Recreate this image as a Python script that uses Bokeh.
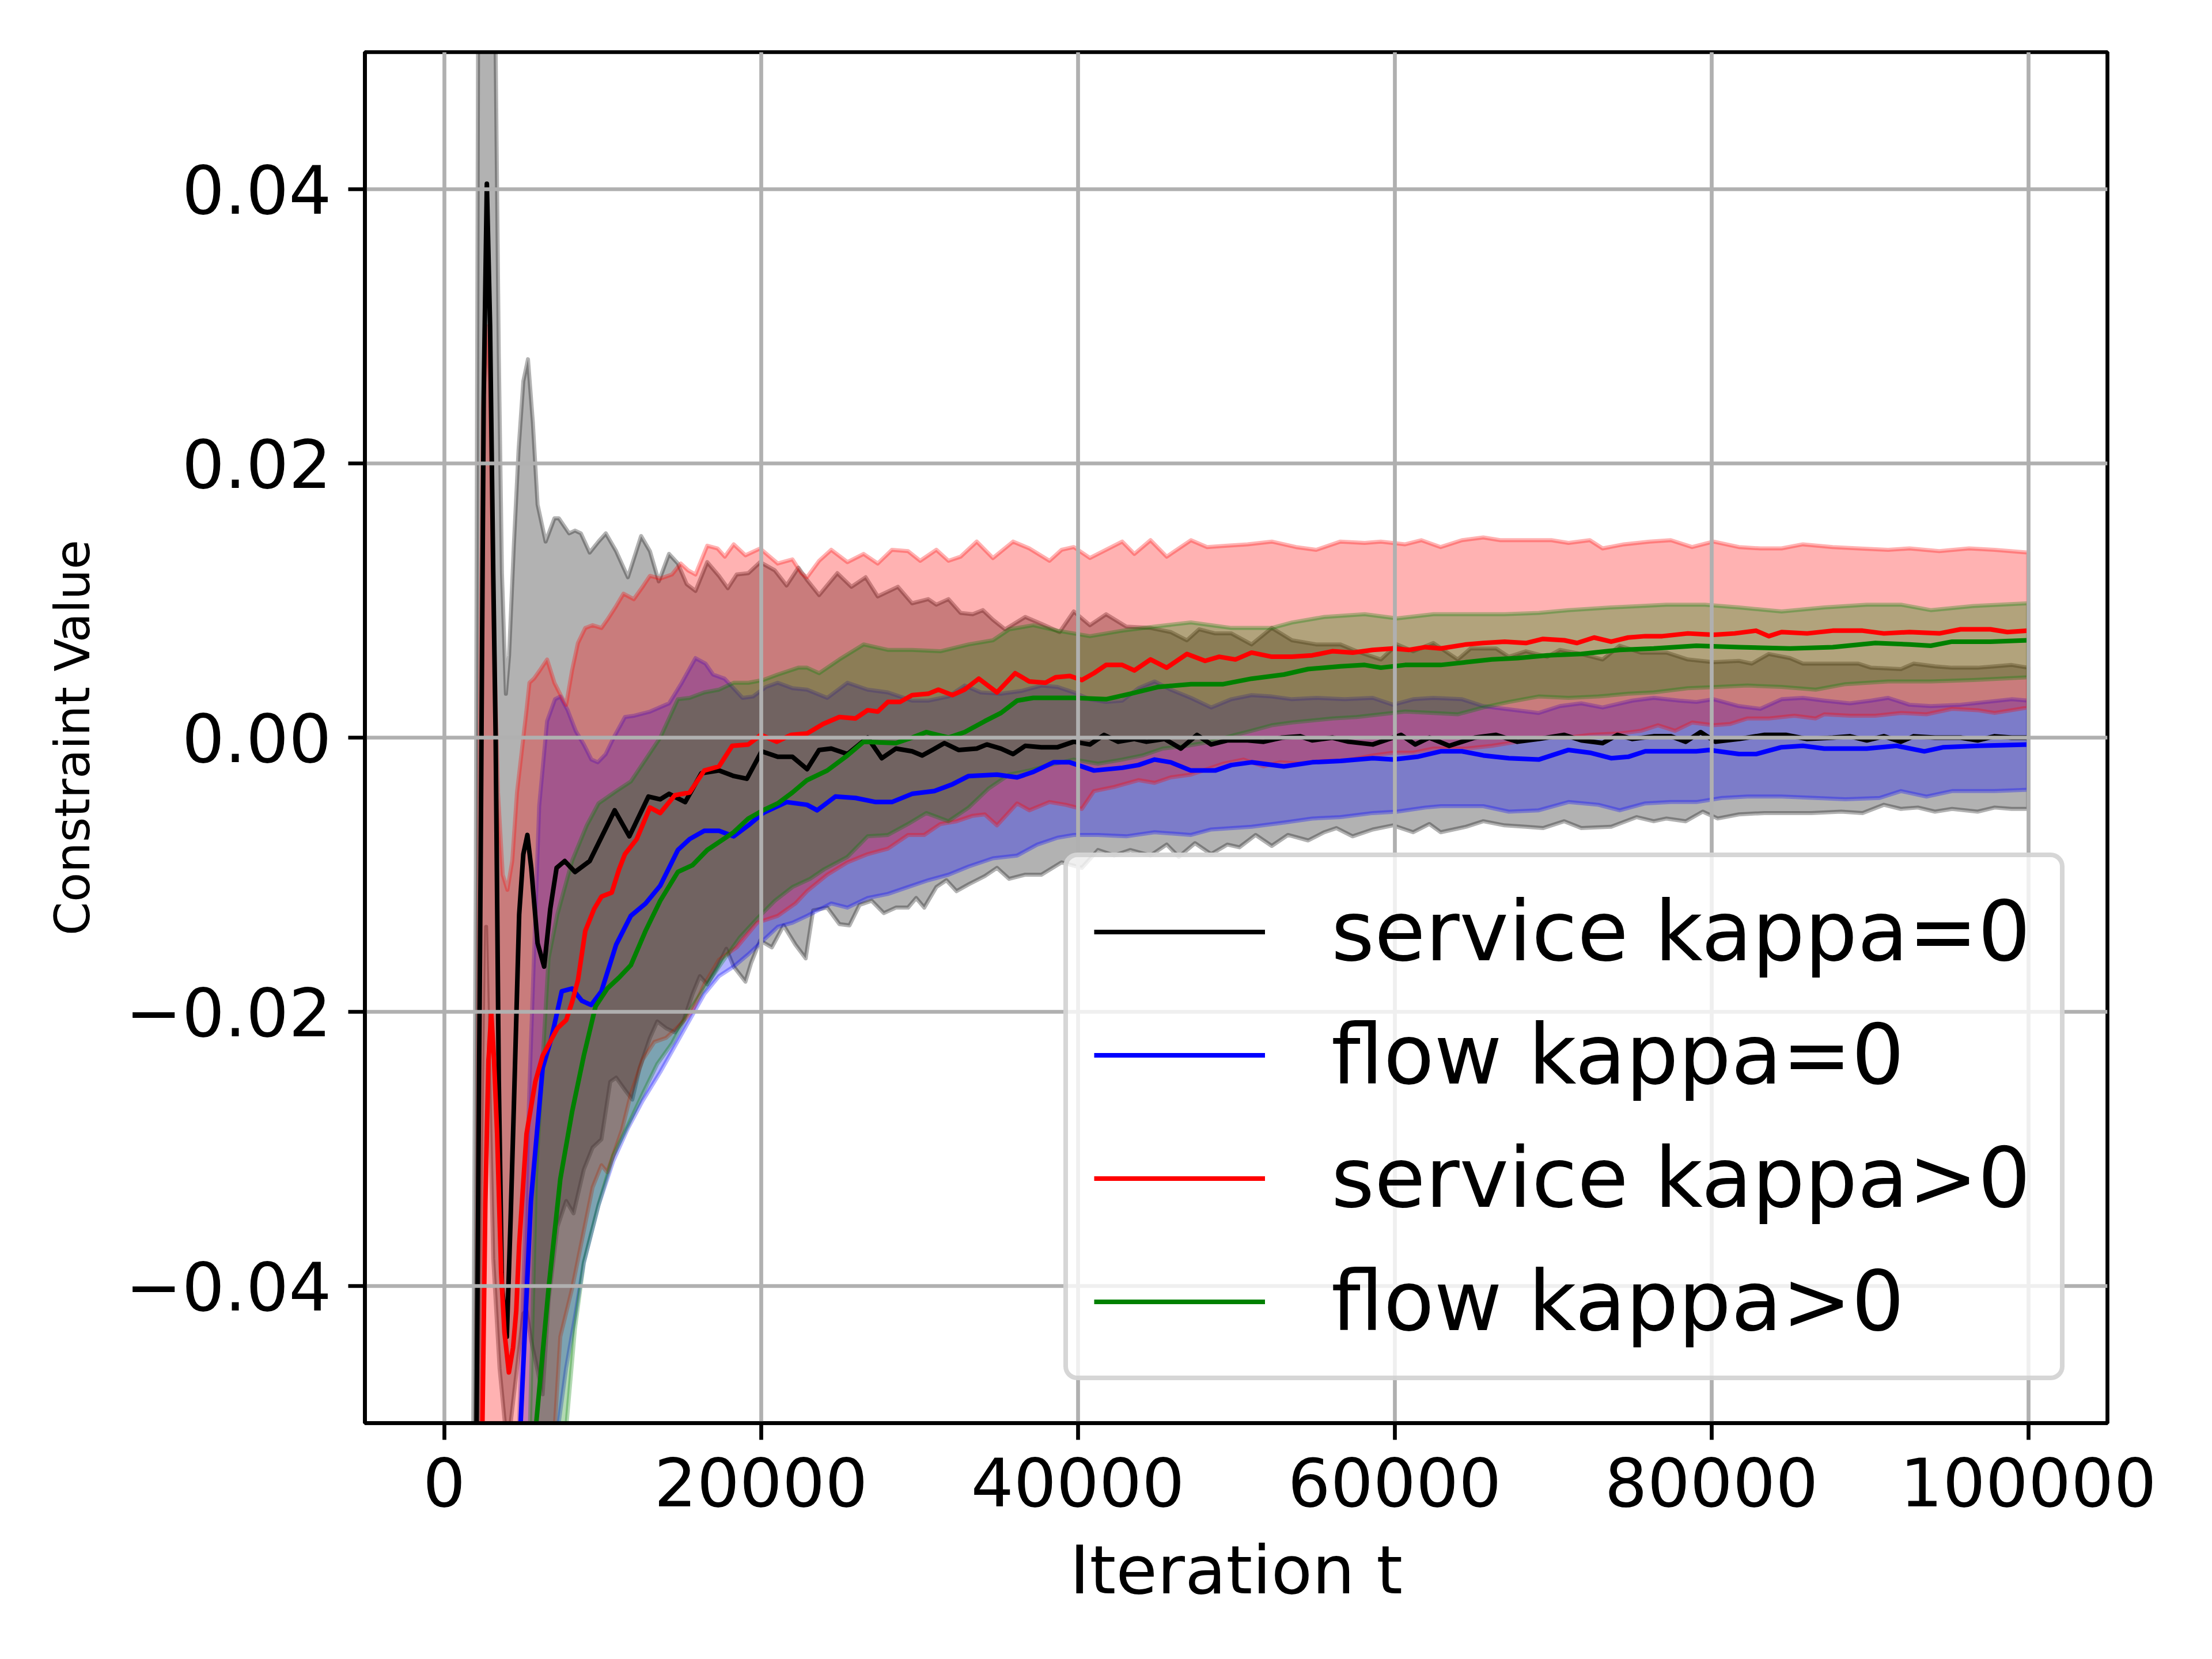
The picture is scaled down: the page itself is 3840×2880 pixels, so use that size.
from bokeh.plotting import figure
from bokeh.models import Range1d, FixedTicker
from bokeh.embed import file_html
from bokeh.resources import INLINE

# ---------------- data ----------------
X_TICKS = [0, 20000, 40000, 60000, 80000, 100000]
X_LABELS = ["0", "20000", "40000", "60000", "80000", "100000"]
Y_TICKS = [-0.04, -0.02, 0.0, 0.02, 0.04]
Y_LABELS = ["\u22120.04", "\u22120.02", "0.00", "0.02", "0.04"]

LABELS = ["service kappa=0", "flow kappa=0", "service kappa>0", "flow kappa>0"]

# service kappa=0 (black) mean
BK_X = [1500, 2047, 2300, 2500, 2697, 2900, 3100, 3253, 3450, 3650, 3958, 4200, 4400, 4737, 5000, 5256, 5500, 5900, 6314, 6700,
        7100, 7612, 8262, 9189, 9746, 10766, 11693, 12899, 13641, 14198, 15219, 16238, 17351, 18278, 19113, 20041, 21061, 21989, 22916, 23674,
        24440, 25460, 26735, 27628, 28521, 29541, 30179, 30817, 31582, 32475, 33623, 34261, 35154, 35919, 36684, 37705, 38725, 39746, 40766, 41659,
        42552, 43572, 44337, 45485, 46506, 47526, 48419, 49439, 50715, 51735, 52883, 54031, 54796, 56072, 57092, 58623, 60409, 61302, 62195, 63447,
        64254, 65061, 66406, 67751, 69096, 70710, 71786, 73131, 74073, 75014, 76359, 77435, 78377, 79318, 80260, 81739, 83353, 84698, 86043, 87657,
        88733, 89809, 90885, 91961, 92768, 94113, 95727, 96803, 97879, 98955, 100000]
BK_Y = [-0.09, -0.05, -0.01, 0.025, 0.0404, 0.030, 0.012, 0.0, -0.025, -0.040, -0.0437, -0.035, -0.027, -0.0129, -0.0085, -0.0071, -0.0095, -0.015, -0.0167, -0.0125,
        -0.0095, -0.0090, -0.0098, -0.0090, -0.0077, -0.0053, -0.0072, -0.0043, -0.0045, -0.0041, -0.0047, -0.0026, -0.0024, -0.0028, -0.0030, -0.0010, -0.0014, -0.0014, -0.0023, -0.0009,
        -0.0008, -0.0012, 0.0000, -0.0015, -0.0008, -0.0010, -0.0013, -0.0009, -0.0004, -0.0009, -0.0008, -0.0005, -0.0008, -0.0012, -0.0006, -0.0007, -0.0007, -0.0003, -0.0005, 0.0002,
        -0.0003, -0.0001, -0.0003, -0.0001, -0.0008, 0.0002, -0.0005, -0.0002, -0.0002, -0.0003, 0.0000, 0.0001, -0.0002, 0.0000, -0.0003, -0.0005, 0.0002, -0.0005, 0.0000, -0.0006,
        -0.0003, 0.0000, 0.0002, -0.0003, -0.0001, 0.0002, -0.0002, -0.0004, 0.0002, -0.0001, 0.0001, 0.0001, -0.0003, 0.0004, -0.0003, -0.0001, 0.0002, 0.0002, -0.0001, 0.0000,
        0.0001, -0.0002, 0.0001, -0.0003, 0.0001, 0.0000, 0.0000, -0.0002, 0.0001, 0.0000, 0.0000]

# flow kappa=0 (blue) mean
BL_X = [4500, 4830, 5479, 6221, 6778, 7427, 8076, 8700, 9282, 9931, 10859, 11786, 12714, 13641, 14754, 15497, 16424, 17351, 18278, 19206,
        20134, 21617, 22909, 23547, 24695, 25970, 27246, 28266, 29541, 30944, 32093, 33113, 34899, 36174, 37194, 38470, 39491, 41021, 42807, 43827,
        44848, 45868, 47143, 48674, 49694, 50971, 53011, 54797, 56582, 58623, 59899, 61430, 62909, 64254, 65599, 67213, 69096, 70979, 72324, 73669,
        74745, 75821, 77166, 79049, 79856, 81739, 82815, 84429, 85774, 87119, 89809, 91692, 93440, 94651, 96803, 100000]
BL_Y = [-0.065, -0.05, -0.0338, -0.0241, -0.0219, -0.0185, -0.0183, -0.0192, -0.0195, -0.0185, -0.0151, -0.0130, -0.0121, -0.0108, -0.0082, -0.0074, -0.0068, -0.0068, -0.0072, -0.0064,
        -0.0055, -0.0047, -0.0049, -0.0053, -0.0043, -0.0044, -0.0047, -0.0047, -0.0041, -0.0039, -0.0034, -0.0028, -0.0027, -0.0029, -0.0025, -0.0018, -0.0018, -0.0024, -0.0022, -0.0020,
        -0.0016, -0.0018, -0.0024, -0.0024, -0.0020, -0.0018, -0.0021, -0.0018, -0.0017, -0.0015, -0.0016, -0.0014, -0.0010, -0.0010, -0.0013, -0.0015, -0.0016, -0.0009, -0.0011, -0.0015,
        -0.0014, -0.0010, -0.0010, -0.0010, -0.0009, -0.0012, -0.0012, -0.0007, -0.0006, -0.0008, -0.0008, -0.0006, -0.0010, -0.0007, -0.0006, -0.0005]

# service kappa>0 (red) mean
RD_X = [2200, 2418, 2600, 2800, 2975, 3150, 3346, 3600, 3810, 4088, 4350, 4552, 4737, 5201, 5757, 6221, 6685, 7149, 7705, 8076,
        8447, 8911, 9467, 9931, 10580, 11044, 11415, 12157, 12992, 13641, 14569, 15497, 16424, 17351, 18186, 19206, 20000, 21000, 21900, 22909,
        23929, 24950, 25970, 26735, 27373, 28011, 28776, 29541, 30562, 31200, 32093, 32858, 33751, 34899, 36046, 36939, 37960, 38598, 39491, 40256,
        41021, 41786, 42807, 43572, 44592, 45613, 46889, 48037, 48930, 49950, 50971, 52246, 53522, 54797, 56072, 57348, 58623, 59899, 60919, 61940,
        62909, 64523, 65599, 66944, 68289, 69365, 70710, 71517, 72593, 73669, 74745, 75821, 76897, 78511, 80125, 81470, 82815, 83622, 84429, 86043,
        87657, 89540, 90885, 92499, 94382, 95727, 97610, 98686, 100000]
RD_Y = [-0.065, -0.05, -0.034, -0.0235, -0.0201, -0.0235, -0.0289, -0.039, -0.0434, -0.0463, -0.0445, -0.0418, -0.037, -0.0289, -0.0251, -0.0232, -0.0222, -0.0212, -0.0206, -0.0193,
        -0.0177, -0.0141, -0.0125, -0.0116, -0.0113, -0.0096, -0.0085, -0.0074, -0.0051, -0.0055, -0.0042, -0.0040, -0.0024, -0.0021, -0.0006, -0.0005, 0.0002, -0.0003, 0.0002, 0.0003,
        0.0010, 0.0015, 0.0014, 0.0020, 0.0019, 0.0026, 0.0026, 0.0031, 0.0032, 0.0035, 0.0031, 0.0035, 0.0043, 0.0033, 0.0047, 0.0041, 0.0040, 0.0044, 0.0045, 0.0042,
        0.0047, 0.0053, 0.0053, 0.0049, 0.0057, 0.0051, 0.0061, 0.0056, 0.0059, 0.0057, 0.0062, 0.0059, 0.0059, 0.0060, 0.0063, 0.0062, 0.0064, 0.0065, 0.0064, 0.0066,
        0.0065, 0.0068, 0.0069, 0.0070, 0.0069, 0.0072, 0.0071, 0.0069, 0.0073, 0.0070, 0.0073, 0.0074, 0.0074, 0.0076, 0.0075, 0.0076, 0.0078, 0.0074, 0.0077, 0.0076,
        0.0078, 0.0078, 0.0076, 0.0077, 0.0076, 0.0079, 0.0079, 0.0077, 0.0078]

# flow kappa>0 (green) mean
GR_X = [5500, 5813, 6592, 7334, 8076, 8818, 9560, 10302, 11044, 11786, 12714, 13641, 14754, 15682, 16609, 18278, 19206, 20134, 21061, 21989,
        22909, 24184, 25460, 26480, 28521, 29541, 30434, 31838, 32858, 34133, 35154, 36174, 37194, 38725, 39746, 41786, 43317, 45102, 47143, 49184,
        50971, 53011, 54542, 56582, 58113, 59133, 60664, 62909, 64523, 66137, 67751, 69634, 71786, 74207, 76359, 79049, 81739, 84967, 87657, 90347,
        92499, 93844, 95189, 97610, 100000]
GR_Y = [-0.065, -0.05, -0.0402, -0.0322, -0.0273, -0.0232, -0.0196, -0.0183, -0.0175, -0.0166, -0.0141, -0.0119, -0.0098, -0.0093, -0.0082, -0.0069, -0.0059, -0.0053, -0.0048, -0.0040,
        -0.0031, -0.0024, -0.0013, -0.0003, -0.0004, 0.0000, 0.0004, 0.0000, 0.0004, 0.0012, 0.0018, 0.0027, 0.0029, 0.0029, 0.0029, 0.0028, 0.0032, 0.0037, 0.0039, 0.0039,
        0.0043, 0.0046, 0.0050, 0.0052, 0.0053, 0.0051, 0.0053, 0.0053, 0.0055, 0.0057, 0.0058, 0.0060, 0.0061, 0.0064, 0.0065, 0.0067, 0.0066, 0.0065, 0.0066, 0.0069,
        0.0068, 0.0067, 0.0070, 0.0070, 0.0071]

# ---- bands (upper / lower edges) ----
BK_HI_X = [1800, 2000, 2140, 2400, 2700, 3000, 3253, 3450, 3650, 3900, 4100, 4400, 4700, 5000, 5293, 5600, 5900, 6407, 6963, 7241,
           7891, 8262, 8633, 9189, 9746, 10209, 10858, 11601, 12435, 12992, 13548, 14198, 14754, 15311, 15867, 16609, 17351, 17907, 18464, 19206,
           19948, 20876, 21618, 22360, 22909, 23674, 24822, 25715, 26608, 27373, 28649, 29541, 30562, 31072, 31837, 32603, 33368, 34006, 34644, 35409,
           36684, 37705, 38853, 39746, 40766, 41786, 43062, 44592, 45868, 46889, 47654, 48675, 49695, 50971, 52246, 53522, 55052, 56582, 57603, 59133,
           60153, 61174, 62449, 63985, 64792, 66406, 67213, 68289, 69634, 70441, 71786, 73131, 74207, 75552, 77166, 78511, 80125, 81739, 82546, 83622,
           84967, 85774, 87657, 89271, 90078, 91961, 92768, 94113, 95189, 96803, 97879, 98955, 100000]
BK_HI_Y = [-0.06, -0.01, 0.05, 0.08, 0.095, 0.075, 0.05, 0.028, 0.012, 0.0032, 0.006, 0.014, 0.021, 0.026, 0.0276, 0.023, 0.017, 0.0143, 0.0160, 0.0160,
           0.0149, 0.0151, 0.0149, 0.0135, 0.0143, 0.0149, 0.0136, 0.0117, 0.0147, 0.0136, 0.0114, 0.0134, 0.0127, 0.0112, 0.0107, 0.0128, 0.0118, 0.0109, 0.0119, 0.0120,
           0.0128, 0.0122, 0.0111, 0.0124, 0.0115, 0.0104, 0.0120, 0.0110, 0.0117, 0.0103, 0.0110, 0.0098, 0.0101, 0.0097, 0.0101, 0.0091, 0.0090, 0.0093, 0.0086, 0.0079,
           0.0088, 0.0083, 0.0077, 0.0092, 0.0082, 0.0090, 0.0081, 0.0080, 0.0077, 0.0071, 0.0079, 0.0076, 0.0076, 0.0068, 0.0080, 0.0071, 0.0068, 0.0068, 0.0063, 0.0057,
           0.0068, 0.0063, 0.0069, 0.0057, 0.0065, 0.0065, 0.0059, 0.0063, 0.0059, 0.0064, 0.0061, 0.0057, 0.0067, 0.0062, 0.0062, 0.0057, 0.0055, 0.0056, 0.0054, 0.0061,
           0.0058, 0.0054, 0.0054, 0.0054, 0.0051, 0.0050, 0.0054, 0.0052, 0.0051, 0.0051, 0.0052, 0.0053, 0.0051]
BK_LO_X = [1800, 2140, 2400, 2650, 2850, 3100, 3500, 4000, 4600, 5000, 5201, 5500, 6221, 6600, 7149, 7705, 8169, 8818, 9375, 9931,
           10488, 10858, 11415, 11879, 12342, 12992, 13456, 14012, 14569, 15125, 15681, 16145, 16609, 17258, 17815, 18278, 19020, 19391, 19948, 20690,
           21432, 22174, 22823, 23292, 24184, 24950, 25588, 26225, 26991, 27756, 28521, 29286, 29797, 30307, 31072, 31710, 32348, 33113, 34133, 34899,
           35664, 36684, 37705, 38980, 40256, 41276, 42297, 43317, 44592, 45613, 46378, 47399, 48419, 49440, 50205, 51226, 52246, 53267, 54543, 55563,
           56328, 57349, 58624, 59899, 61175, 62195, 62909, 64523, 65599, 66944, 68289, 69365, 70710, 71786, 73669, 75283, 76359, 77166, 78376, 79452,
           80394, 81739, 83353, 84967, 86312, 88195, 89540, 90885, 91961, 93037, 94113, 95189, 96803, 97879, 98955, 100000]
BK_LO_Y = [-0.10, -0.06, -0.035, -0.0138, -0.025, -0.038, -0.046, -0.052, -0.046, -0.042, -0.0418, -0.044, -0.0479, -0.041, -0.0357, -0.0338, -0.0347, -0.0315, -0.0299, -0.0293,
           -0.0251, -0.0248, -0.0257, -0.0264, -0.0241, -0.0219, -0.0207, -0.0212, -0.0215, -0.0206, -0.0187, -0.0174, -0.0180, -0.0167, -0.0154, -0.0167, -0.0178, -0.0164, -0.0148, -0.0153,
           -0.0137, -0.0151, -0.0161, -0.0126, -0.0124, -0.0136, -0.0137, -0.0122, -0.0119, -0.0128, -0.0124, -0.0124, -0.0117, -0.0124, -0.0109, -0.0104, -0.0112, -0.0107, -0.0101, -0.0095,
           -0.0103, -0.0100, -0.0100, -0.0091, -0.0095, -0.0082, -0.0086, -0.0082, -0.0086, -0.0078, -0.0087, -0.0077, -0.0085, -0.0078, -0.0080, -0.0071, -0.0079, -0.0071, -0.0075, -0.0069,
           -0.0066, -0.0072, -0.0067, -0.0064, -0.0069, -0.0063, -0.0069, -0.0065, -0.0061, -0.0064, -0.0065, -0.0066, -0.0061, -0.0066, -0.0065, -0.0058, -0.0061, -0.0059, -0.0061, -0.0054,
           -0.0059, -0.0056, -0.0055, -0.0055, -0.0055, -0.0054, -0.0055, -0.0049, -0.0052, -0.0051, -0.0054, -0.0052, -0.0054, -0.0051, -0.0052, -0.0052]

BL_HI_X = [4000, 4737, 5400, 6000, 6500, 7000, 7334, 7800, 8300, 8818, 9300, 9700, 10200, 10700, 11415, 12000, 13000, 14200, 15000, 15867,
           16500, 16980, 17700, 18278, 18835, 19500, 20319, 21061, 22000, 22909, 24184, 25460, 26735, 28011, 29541, 30562, 31838, 32858, 33878, 35154,
           36430, 37705, 38725, 39746, 40766, 41786, 42807, 43827, 44848, 45868, 47143, 48419, 49695, 50971, 52246, 53522, 55052, 56838, 58624, 59899,
           61175, 62450, 64254, 65599, 66944, 69096, 70441, 71786, 73131, 75014, 76359, 77973, 79049, 80125, 81739, 83084, 84429, 85774, 87119, 88733,
           90078, 91154, 92499, 93844, 95727, 97341, 98955, 100000]
BL_HI_Y = [-0.08, -0.05, -0.025, -0.005, 0.0012, 0.0028, 0.0030, 0.0020, 0.0005, -0.0005, -0.0016, -0.0018, -0.0012, 0.0000, 0.0015, 0.0016, 0.0019, 0.0025, 0.0040, 0.0058,
           0.0054, 0.0046, 0.0043, 0.0036, 0.0029, 0.0030, 0.0037, 0.0040, 0.0036, 0.0035, 0.0029, 0.0040, 0.0035, 0.0033, 0.0027, 0.0027, 0.0030, 0.0038, 0.0033, 0.0032,
           0.0034, 0.0038, 0.0037, 0.0033, 0.0028, 0.0026, 0.0027, 0.0036, 0.0041, 0.0035, 0.0029, 0.0022, 0.0028, 0.0031, 0.0030, 0.0028, 0.0029, 0.0028, 0.0029, 0.0024,
           0.0028, 0.0029, 0.0028, 0.0023, 0.0021, 0.0018, 0.0023, 0.0025, 0.0022, 0.0027, 0.0029, 0.0027, 0.0026, 0.0028, 0.0023, 0.0021, 0.0028, 0.0029, 0.0027, 0.0025,
           0.0027, 0.0029, 0.0024, 0.0023, 0.0024, 0.0026, 0.0028, 0.0027]
BL_LO_X = [6000, 7000, 7700, 8300, 8818, 9746, 10673, 11601, 12528, 13641, 14569, 15496, 16424, 17351, 18278, 19206, 20134, 21061, 21989, 22916,
           24440, 25460, 26735, 28011, 29286, 30562, 31838, 33113, 34644, 36174, 37449, 38725, 39746, 41276, 43062, 44848, 47143, 48419, 50971, 53011,
           54797, 56583, 58624, 60153, 61940, 62909, 65599, 67213, 69096, 70979, 72862, 74207, 75821, 77435, 79049, 80663, 82277, 84429, 86581, 88464,
           90616, 91961, 93575, 95189, 97879, 100000]
BL_LO_Y = [-0.07, -0.052, -0.046, -0.042, -0.0383, -0.0341, -0.0309, -0.0285, -0.0265, -0.0244, -0.0225, -0.0206, -0.0187, -0.0174, -0.0167, -0.0158, -0.0148, -0.0138, -0.0135, -0.0130,
           -0.0121, -0.0124, -0.0117, -0.0114, -0.0109, -0.0104, -0.0100, -0.0094, -0.0088, -0.0086, -0.0078, -0.0073, -0.0071, -0.0071, -0.0072, -0.0069, -0.0071, -0.0067, -0.0065, -0.0062,
           -0.0059, -0.0058, -0.0055, -0.0054, -0.0051, -0.0050, -0.0050, -0.0054, -0.0053, -0.0047, -0.0049, -0.0053, -0.0048, -0.0047, -0.0047, -0.0044, -0.0043, -0.0043, -0.0044, -0.0045,
           -0.0044, -0.0039, -0.0043, -0.0039, -0.0039, -0.0038]

RD_HI_X = [2000, 2250, 2450, 2700, 2900, 3100, 3400, 3700, 3995, 4300, 4600, 4900, 5200, 5386, 5665, 6036, 6500, 6963, 7400, 7705,
           8076, 8447, 8911, 9375, 9931, 10302, 10858, 11323, 11972, 12528, 12992, 13641, 14383, 14939, 15403, 15867, 16609, 17258, 17722, 18278,
           19021, 19948, 21061, 21989, 22545, 22909, 23674, 24440, 25460, 26480, 27373, 28266, 29286, 30052, 31072, 31838, 32603, 33623, 34644, 35919,
           36940, 38215, 38980, 39746, 40766, 41786, 42807, 43572, 44593, 45613, 47143, 48164, 49440, 50715, 52246, 53777, 55052, 56583, 58113, 59133,
           60664, 61685, 62909, 64254, 65599, 66675, 68289, 69903, 70979, 72324, 73131, 74476, 76090, 77435, 78780, 80125, 81739, 83084, 84429, 85774,
           87657, 89271, 91154, 92499, 94382, 96265, 97879, 100000]
RD_HI_Y = [-0.06, 0.0, 0.024, 0.030, 0.026, 0.010, -0.004, -0.010, -0.0111, -0.009, -0.004, -0.001, 0.002, 0.0040, 0.0043, 0.0049, 0.0057, 0.0040, 0.0030, 0.0024,
           0.0049, 0.0069, 0.0080, 0.0082, 0.0080, 0.0086, 0.0096, 0.0105, 0.0101, 0.0110, 0.0118, 0.0116, 0.0119, 0.0127, 0.0122, 0.0119, 0.0140, 0.0138, 0.0132, 0.0141,
           0.0133, 0.0138, 0.0127, 0.0130, 0.0120, 0.0117, 0.0129, 0.0137, 0.0128, 0.0134, 0.0127, 0.0137, 0.0136, 0.0129, 0.0137, 0.0129, 0.0132, 0.0143, 0.0131, 0.0143,
           0.0138, 0.0129, 0.0137, 0.0139, 0.0131, 0.0137, 0.0143, 0.0134, 0.0144, 0.0132, 0.0144, 0.0139, 0.0140, 0.0141, 0.0143, 0.0139, 0.0137, 0.0143, 0.0142, 0.0143,
           0.0141, 0.0144, 0.0139, 0.0144, 0.0146, 0.0144, 0.0144, 0.0144, 0.0142, 0.0144, 0.0138, 0.0141, 0.0143, 0.0144, 0.0139, 0.0143, 0.0139, 0.0138, 0.0138, 0.0141,
           0.0139, 0.0138, 0.0137, 0.0138, 0.0136, 0.0138, 0.0137, 0.0135]
RD_LO_X = [2000, 2700, 3500, 5000, 6500, 7000, 7334, 8076, 9375, 9931, 10302, 11230, 11786, 12528, 13271, 14012, 14939, 15681, 16424, 17351,
           18464, 19763, 21061, 22174, 22909, 24184, 25460, 26735, 28011, 29286, 30307, 31328, 32348, 33369, 34133, 34899, 36174, 36940, 38215, 39235,
           40256, 41021, 42297, 43827, 44848, 45868, 47143, 47909, 49184, 50460, 51735, 52756, 54031, 55563, 56838, 58624, 59899, 61175, 62450, 64523,
           66137, 67751, 69096, 70979, 72324, 74207, 75552, 76628, 77704, 78780, 80125, 81201, 82277, 83622, 85236, 86581, 87119, 88733, 90347, 91961,
           93575, 95189, 96803, 97879, 98955, 100000]
RD_LO_Y = [-0.10, -0.07, -0.09, -0.08, -0.058, -0.05, -0.0437, -0.0402, -0.0328, -0.0312, -0.0317, -0.0286, -0.0260, -0.0235, -0.0222, -0.0219, -0.0209, -0.0199, -0.0180, -0.0162,
           -0.0153, -0.0135, -0.0130, -0.0121, -0.0112, -0.0100, -0.0091, -0.0085, -0.0081, -0.0071, -0.0071, -0.0063, -0.0061, -0.0057, -0.0056, -0.0064, -0.0048, -0.0053, -0.0047, -0.0049,
           -0.0052, -0.0039, -0.0036, -0.0031, -0.0033, -0.0029, -0.0027, -0.0024, -0.0019, -0.0016, -0.0021, -0.0018, -0.0019, -0.0017, -0.0017, -0.0013, -0.0011, -0.0011, -0.0008, -0.0008,
           -0.0006, -0.0003, 0.0000, 0.0000, 0.0002, 0.0003, 0.0005, 0.0009, 0.0005, 0.0011, 0.0009, 0.0010, 0.0014, 0.0014, 0.0016, 0.0014, 0.0017, 0.0016, 0.0016, 0.0018,
           0.0017, 0.0021, 0.0020, 0.0018, 0.0020, 0.0022]

GR_HI_X = [5000, 5800, 6592, 7149, 8076, 9004, 9746, 10858, 11786, 12714, 13641, 14754, 15496, 16424, 17351, 18278, 19206, 20134, 21061, 22360,
           22909, 23674, 24950, 26480, 28011, 29541, 31328, 33113, 34644, 35664, 37194, 38725, 40766, 42807, 44848, 47143, 49695, 52246, 53522, 55563,
           58113, 60153, 62450, 64523, 66944, 69096, 70979, 73669, 75552, 77166, 79587, 81739, 84429, 87119, 89809, 91961, 93844, 96534, 100000]
GR_HI_Y = [-0.07, -0.032, -0.0161, -0.0129, -0.0090, -0.0064, -0.0048, -0.0039, -0.0032, -0.0016, 0.0000, 0.0028, 0.0029, 0.0033, 0.0035, 0.0040, 0.0040, 0.0042, 0.0046, 0.0051,
           0.0051, 0.0047, 0.0057, 0.0068, 0.0064, 0.0064, 0.0063, 0.0068, 0.0071, 0.0079, 0.0082, 0.0078, 0.0074, 0.0078, 0.0081, 0.0084, 0.0080, 0.0080, 0.0084, 0.0088,
           0.0090, 0.0087, 0.0090, 0.0090, 0.0090, 0.0091, 0.0093, 0.0095, 0.0096, 0.0097, 0.0097, 0.0095, 0.0092, 0.0095, 0.0097, 0.0097, 0.0093, 0.0096, 0.0098]
GR_LO_X = [6500, 7705, 8261, 8818, 9746, 10673, 11601, 12528, 13456, 14383, 15496, 16424, 17537, 18650, 19763, 20876, 21989, 23102, 23994, 25460,
           26735, 28011, 29286, 30434, 31838, 33113, 34389, 35664, 36940, 38215, 39746, 41276, 42807, 44082, 45358, 46889, 48419, 49950, 50971, 52246,
           53522, 56072, 57603, 59133, 60664, 62450, 63985, 65599, 67213, 69096, 70979, 72862, 74745, 76359, 78511, 80394, 82277, 84429, 86581, 88464,
           91154, 93844, 96534, 100000]
GR_LO_Y = [-0.08, -0.0504, -0.0431, -0.0383, -0.0341, -0.0305, -0.0283, -0.0260, -0.0238, -0.0223, -0.0199, -0.0183, -0.0164, -0.0146, -0.0132, -0.0119, -0.0109, -0.0103, -0.0096, -0.0087,
           -0.0072, -0.0071, -0.0063, -0.0055, -0.0061, -0.0051, -0.0037, -0.0027, -0.0024, -0.0020, -0.0016, -0.0019, -0.0016, -0.0013, -0.0008, -0.0006, -0.0003, 0.0002, 0.0005, 0.0009,
           0.0011, 0.0014, 0.0015, 0.0017, 0.0019, 0.0018, 0.0017, 0.0022, 0.0026, 0.0030, 0.0029, 0.0030, 0.0032, 0.0033, 0.0036, 0.0037, 0.0038, 0.0037, 0.0035, 0.0039,
           0.0041, 0.0041, 0.0042, 0.0044]

# ---------------- figure ----------------
FONT = "DejaVu Sans"

p = figure(frame_width=3025, frame_height=2380,
           x_range=Range1d(-5000, 105000), y_range=Range1d(-0.05, 0.05),
           output_backend="svg", toolbar_location=None,
           min_border_left=633, min_border_right=166, min_border_top=90, min_border_bottom=394,
           background_fill_color="white", border_fill_color="white")

p.outline_line_color = "black"
p.outline_line_width = 6.7

# bands (drawn first, below the grid)
bands = [
    (BK_HI_X, BK_HI_Y, BK_LO_X, BK_LO_Y, "black"),
    (BL_HI_X, BL_HI_Y, BL_LO_X, BL_LO_Y, "blue"),
    (RD_HI_X, RD_HI_Y, RD_LO_X, RD_LO_Y, "red"),
    (GR_HI_X, GR_HI_Y, GR_LO_X, GR_LO_Y, "green"),
]
for hx, hy, lx, ly, c in bands:
    px = list(hx) + list(lx)[::-1]
    py = list(hy) + list(ly)[::-1]
    p.patch(px, py, fill_color=c, fill_alpha=0.3, line_color=c, line_alpha=0.3,
            line_width=7, line_join="round", level="underlay")

# mean lines
means = [(BK_X, BK_Y, "black"), (BL_X, BL_Y, "blue"), (RD_X, RD_Y, "red"), (GR_X, GR_Y, "green")]
for (mx, my, c), lab in zip(means, LABELS):
    p.line(mx, my, line_color=c, line_width=8, line_join="round", legend_label=lab)

# grid
p.xgrid.ticker = FixedTicker(ticks=X_TICKS)
p.ygrid.ticker = FixedTicker(ticks=Y_TICKS)
for g in (p.xgrid, p.ygrid):
    g.grid_line_color = "#b0b0b0"
    g.grid_line_width = 6.7
    g.level = "glyph"

# axes
p.xaxis.ticker = FixedTicker(ticks=X_TICKS)
p.yaxis.ticker = FixedTicker(ticks=Y_TICKS)
p.xaxis.major_label_overrides = {t: l for t, l in zip(X_TICKS, X_LABELS)}
p.yaxis.major_label_overrides = {t: l for t, l in zip(Y_TICKS, Y_LABELS)}
for ax in (p.xaxis, p.yaxis):
    ax.axis_line_color = "black"
    ax.axis_line_width = 6.7
    ax.major_tick_line_color = "black"
    ax.major_tick_line_width = 6.7
    ax.major_tick_out = 29
    ax.major_tick_in = 0
    ax.minor_tick_line_color = None
    ax.major_label_text_font = FONT
    ax.major_label_text_font_size = "116.7px"
    ax.major_label_text_color = "black"
    ax.axis_label_text_font = FONT
    ax.axis_label_text_font_style = "normal"
    ax.axis_label_text_color = "black"

p.xaxis.axis_label = "Iteration t"
p.xaxis.axis_label_text_font_size = "116.7px"
p.xaxis.major_label_standoff = 30
p.xaxis.axis_label_standoff = 40

p.yaxis.axis_label = "Constraint Value"
p.yaxis.axis_label_text_font_size = "83.3px"
p.yaxis.major_label_standoff = 29
p.yaxis.axis_label_standoff = 40

# legend
lg = p.legend[0]
lg.location = "bottom_right"
lg.margin = 74
lg.padding = 45
lg.spacing = 46
lg.glyph_width = 297
lg.glyph_height = 165
lg.label_height = 165
lg.label_width = 1220
lg.label_standoff = 115
lg.label_text_font = FONT
lg.label_text_font_size = "144px"
lg.label_text_color = "black"
lg.border_line_color = "#cccccc"
lg.border_line_width = 8
lg.border_line_alpha = 0.8
lg.background_fill_color = "white"
lg.background_fill_alpha = 0.8
try:
    lg.border_radius = 24
except Exception:
    pass

open("out.html", "w").write(file_html(p, INLINE))
